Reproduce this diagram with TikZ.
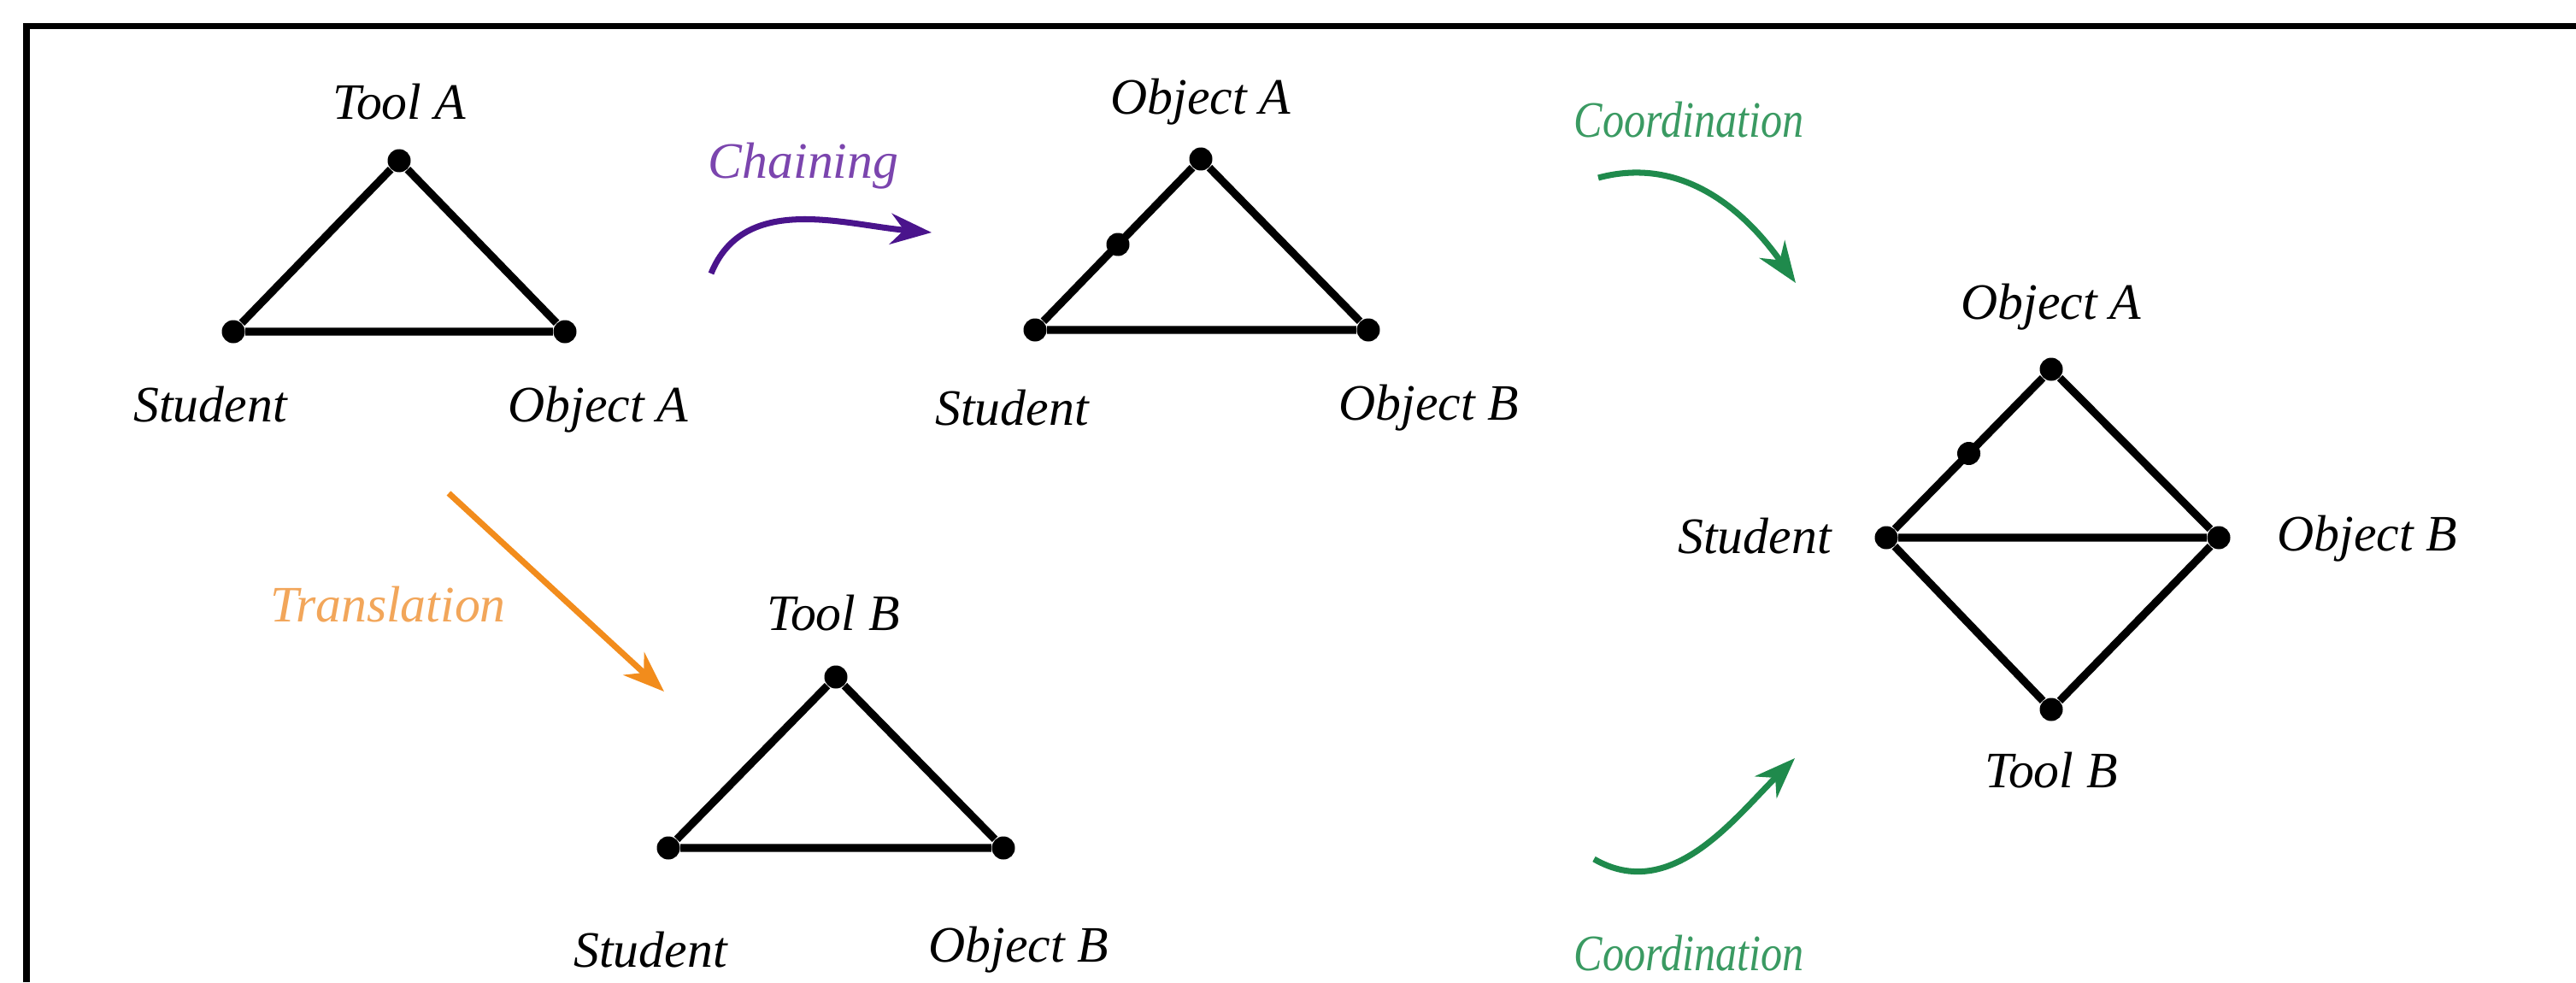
\documentclass[tikz,border=0pt]{standalone}
\usepackage{fontspec}
\setmainfont{Liberation Serif}
\usepackage{xcolor}
\usetikzlibrary{arrows.meta, positioning}
\definecolor{chainarr}{HTML}{4A148C}
\definecolor{chaintxt}{HTML}{7B45AE}
\definecolor{coordarr}{HTML}{1F8A4C}
\definecolor{coordtxt}{HTML}{3A9A62}
\definecolor{transarr}{HTML}{F28C1C}
\definecolor{transtxt}{HTML}{F2A65A}
\newcommand{\narrow}[1]{\scalebox{0.84}[1]{#1}}

\begin{document}
\begin{tikzpicture}[
  vtx/.style  = {circle, fill=black, inner sep=0pt, minimum size=0.27cm},
  link/.style = {line width=2.6pt},
  lbl/.style  = {font=\fontsize{17}{20}\selectfont\itshape, inner sep=0pt},
  flow/.style = {-{Stealth[length=0.48cm, width=0.36cm]}, line width=2pt},
]
  \useasboundingbox (0,0) rectangle (30.14,-11.49);
  \draw[line width=0.07cm] (0.31,-11.49) -- (0.31,-0.31) -- (30.14,-0.31);

  % student, tool A, object A
  \node[vtx] (ta1) at (4.67,-1.88) {};
  \node[vtx] (st1) at (2.73,-3.88) {};
  \node[vtx] (oa1) at (6.61,-3.88) {};
  \draw[link] (st1) -- (ta1) -- (oa1) -- (st1);
  \node[lbl] (ta1-l) at (4.67,-1.19) {Tool A};
  \node[lbl] (st1-l) at (2.46,-4.73) {Student};
  \node[lbl] (oa1-l) at (7.00,-4.79) {Object A};

  % chaining
  \coordinate (ch-s) at (8.32,-3.20);
  \coordinate (ch-e) at (10.90,-2.72);
  \draw[flow, chainarr] (ch-s) to[out=68, in=175] (ch-e);
  \node[lbl, text=chaintxt] (ch-l) at (9.40,-1.94) {Chaining};

  % student, object A (as tool), object B
  \node[vtx] (oa2) at (14.05,-1.86) {};
  \node[vtx] (st2) at (12.11,-3.86) {};
  \node[vtx] (ob2) at (16.01,-3.86) {};
  \draw[link] (st2) -- node[vtx, pos=0.5] (md2) {} (oa2);
  \draw[link] (oa2) -- (ob2) -- (st2);
  \node[lbl] (oa2-l) at (14.05,-1.19) {Object A};
  \node[lbl] (st2-l) at (11.84,-4.77) {Student};
  \node[lbl] (ob2-l) at (16.72,-4.77) {Object B};

  % translation
  \coordinate (tr-s) at (5.25,-5.77);
  \coordinate (tr-e) at (7.77,-8.09);
  \draw[flow, transarr] (tr-s) -- (tr-e);
  \node[lbl, text=transtxt] (tr-l) at (4.54,-7.07) {Translation};

  % student, tool B, object B
  \node[vtx] (tb4) at (9.78,-7.92) {};
  \node[vtx] (st4) at (7.82,-9.92) {};
  \node[vtx] (ob4) at (11.74,-9.92) {};
  \draw[link] (st4) -- (tb4) -- (ob4) -- (st4);
  \node[lbl] (tb4-l) at (9.75,-7.17) {Tool B};
  \node[lbl] (st4-l) at (7.61,-11.11) {Student};
  \node[lbl] (ob4-l) at (11.92,-11.11) {Object B};

  % coordination
  \coordinate (co1-s) at (18.70,-2.08);
  \coordinate (co1-e) at (21.01,-3.31);
  \draw[flow, coordarr] (co1-s) to[out=15, in=125] (co1-e);
  \node[lbl, text=coordtxt] (co1-l) at (19.76,-1.40) {\narrow{Coordination}};
  \coordinate (co2-s) at (18.65,-10.05);
  \coordinate (co2-e) at (21.00,-8.87);
  \draw[flow, coordarr] (co2-s) to[out=-30, in=225] (co2-e);
  \node[lbl, text=coordtxt] (co2-l) at (19.76,-11.15) {\narrow{Coordination}};

  % combined diamond
  \node[vtx] (oa3) at (24.00,-4.32) {};
  \node[vtx] (st3) at (22.07,-6.29) {};
  \node[vtx] (ob3) at (25.96,-6.29) {};
  \node[vtx] (tb3) at (24.00,-8.30) {};
  \draw[link] (st3) -- node[vtx, pos=0.5] (md3) {} (oa3);
  \draw[link] (oa3) -- (ob3) -- (st3) -- (tb3) -- (ob3);
  \node[lbl] (oa3-l) at (24.00,-3.59) {Object A};
  \node[lbl] (st3-l) at (20.53,-6.27) {Student};
  \node[lbl] (ob3-l) at (27.70,-6.30) {Object B};
  \node[lbl] (tb3-l) at (24.00,-9.01) {Tool B};
\end{tikzpicture}
\end{document}
